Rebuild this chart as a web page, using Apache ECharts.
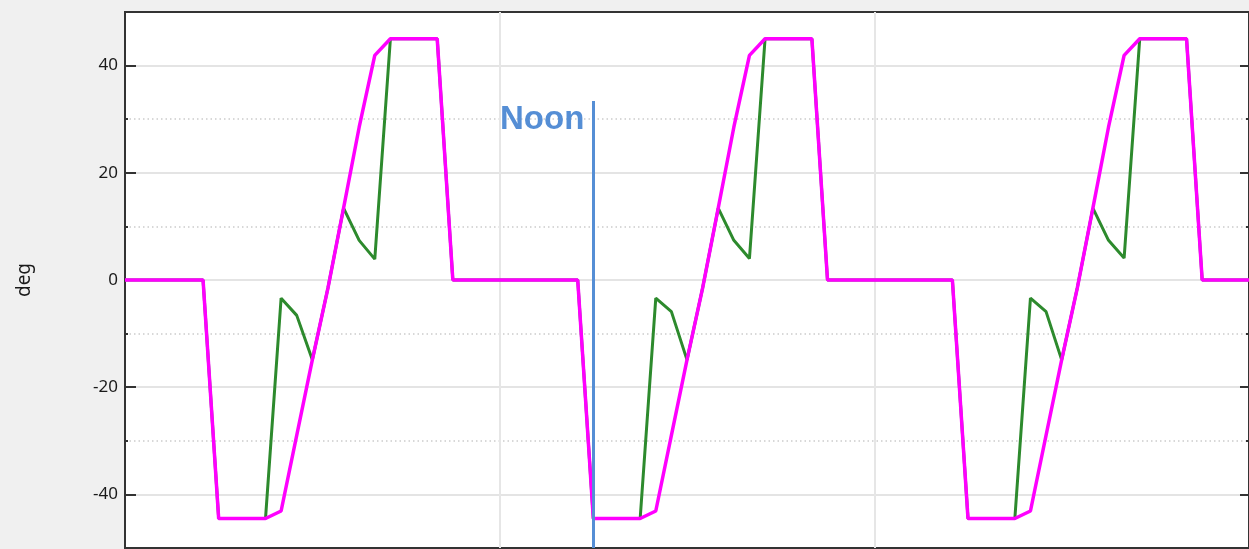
<!DOCTYPE html>
<html>
<head>
<meta charset="utf-8">
<script src="https://cdn.jsdelivr.net/npm/echarts@6/dist/echarts.min.js"></script>
<style>
html,body{margin:0;padding:0;background:#f0f0f0;}
#chart{width:1249px;height:549px;}
</style>
</head>
<body>
<div id="chart"></div>
<script>
// ---- data (hours since start, 3 days) ----
const hours = [0,1,2,3,4,5,6,7,8,9,10,11,12,13,14,15,16,17,18,19,20,21,22,23,
  24,25,26,27,28,29,30,31,32,33,34,35,36,37,38,39,40,41,42,43,44,45,46,47,
  48,49,50,51,52,53,54,55,56,57,58,59,60,61,62,63,64,65,66,67,68,69,70,71,72];

// magenta series (tracking angle)
const magentaDay1 = [0,0,0,0,0,0,-44.5,-44.5,-44.5,-44.5,-43.1,-29,-14.9,-1.5,13.4,28.5,41.9,45,45,45,45,0,0,0];
const magentaDay2 = [0,0,0,0,0,0,-44.5,-44.5,-44.5,-44.5,-43.1,-29,-14.9,-1.5,13.4,28.5,41.9,45,45,45,45,0,0,0];
const magentaDay3 = [0,0,0,0,0,0,-44.5,-44.5,-44.5,-44.5,-43.1,-29,-14.9,-1.5,13.4,28.5,41.9,45,45,45,45,0,0,0];
const magentaEnd = [0];

// green series
const greenDay1 = [0,0,0,0,0,0,-44.5,-44.5,-44.5,-44.5,-3.4,-6.6,-14.9,-1.5,13.4,7.4,3.9,45,45,45,45,0,0,0];
const greenDay2 = [0,0,0,0,0,0,-44.5,-44.5,-44.5,-44.5,-3.4,-5.9,-14.9,-1.5,13.4,7.4,4.0,45,45,45,45,0,0,0];
const greenDay3 = [0,0,0,0,0,0,-44.5,-44.5,-44.5,-44.5,-3.4,-5.9,-14.9,-1.5,13.4,7.4,4.1,45,45,45,45,0,0,0];
const greenEnd = [0];

const yTickLabels = ['-40','-20','0','20','40'];
const yName = 'deg';
const noonText = 'Noon';
const noonHour = 30;
const noonLineTop = 33.4;
const noonLabelY = 29.8;

const magentaVals = magentaDay1.concat(magentaDay2, magentaDay3, magentaEnd);
const greenVals = greenDay1.concat(greenDay2, greenDay3, greenEnd);
const magentaData = hours.map((h, i) => [h, magentaVals[i]]);
const greenData = hours.map((h, i) => [h, greenVals[i]]);

const chart = echarts.init(document.getElementById('chart'), null, {renderer: 'canvas'});
const labelFont = {fontFamily: 'Noto Sans', fontSize: 17, color: '#1a1a1a'};
const blue = '#558ed5';
const dark = '#333333';
const noLine = {show: false};

function baseY(extra) {
  return Object.assign({
    type: 'value', min: -50, max: 50, position: 'left', z: 1,
    axisLine: noLine, axisTick: {show: false}, axisLabel: {show: false}, splitLine: {show: false}
  }, extra);
}

chart.setOption({
  animation: false,
  backgroundColor: '#f0f0f0',
  grid: {
    left: 125, right: -1, top: 12, bottom: 1, z: 0,
    show: true, backgroundColor: '#ffffff',
    borderColor: dark, borderWidth: 2
  },
  xAxis: [{
    type: 'value', min: 0, max: 72, interval: 24, position: 'bottom', z: 1,
    axisLine: noLine,
    axisTick: {show: false}, axisLabel: {show: false},
    splitLine: {show: true, showMinLine: false, showMaxLine: false,
      lineStyle: {color: '#e6e6e6', width: 2}}
  }],
  yAxis: [
    // 0: minor grid lines (every 10, dotted)
    baseY({interval: 10, splitLine: {show: true, showMinLine: false, showMaxLine: false,
      lineStyle: {color: '#cccccc', width: 1.5, type: [1.5, 3]}}}),
    // 1: major grid lines (every 20, solid, drawn over the dotted ones)
    baseY({splitLine: {show: true, showMinLine: false, showMaxLine: false,
      lineStyle: {color: '#e4e4e4', width: 2}}}),
    // 2: labels + name
    baseY({z: 2,
      name: yName, nameLocation: 'middle', nameGap: 91, nameRotate: 90,
      nameTextStyle: {fontFamily: 'Noto Sans', fontSize: 19, color: '#1a1a1a'},
      axisLabel: Object.assign({show: true, margin: 7, showMinLabel: false, showMaxLabel: false,
        formatter: v => yTickLabels.indexOf(String(v)) >= 0 ? String(v) : ''}, labelFont)}),
    // 3: major ticks left
    baseY({z: 2,
      axisTick: {show: true, inside: true, length: 11, lineStyle: {color: dark, width: 2}}}),
    // 4: minor ticks left
    baseY({z: 2, interval: 10,
      axisTick: {show: true, inside: true, length: 3, lineStyle: {color: dark, width: 2}}}),
    // 5: major ticks right
    baseY({z: 2, position: 'right',
      axisTick: {show: true, inside: true, length: 9, lineStyle: {color: dark, width: 2}}}),
    // 6: minor ticks right
    baseY({z: 2, position: 'right', interval: 10,
      axisTick: {show: true, inside: true, length: 3, lineStyle: {color: dark, width: 2}}})
  ],
  series: [
    {
      type: 'line', name: 'green', data: greenData, yAxisIndex: 0,
      symbol: 'none', z: 3,
      lineStyle: {color: '#2d8a2d', width: 3}
    },
    {
      type: 'line', name: 'magenta', data: magentaData, yAxisIndex: 0,
      symbol: 'none', z: 4,
      lineStyle: {color: '#ff00ff', width: 3.5}
    },
    {
      type: 'line', name: 'noon', data: [], yAxisIndex: 0, z: 6,
      markLine: {
        silent: true, symbol: ['none', 'none'],
        label: {show: false},
        lineStyle: {color: blue, width: 3, type: 'solid'},
        data: [[{coord: [noonHour, noonLineTop]}, {coord: [noonHour, -50]}]]
      },
      markPoint: {
        silent: true, symbol: 'circle', symbolSize: 0,
        label: {show: true, position: 'left', distance: 9, formatter: noonText,
          fontFamily: 'Liberation Sans', fontWeight: 'bold', fontSize: 33, color: blue},
        data: [{coord: [noonHour, noonLabelY]}]
      }
    }
  ]
});
</script>
</body>
</html>
